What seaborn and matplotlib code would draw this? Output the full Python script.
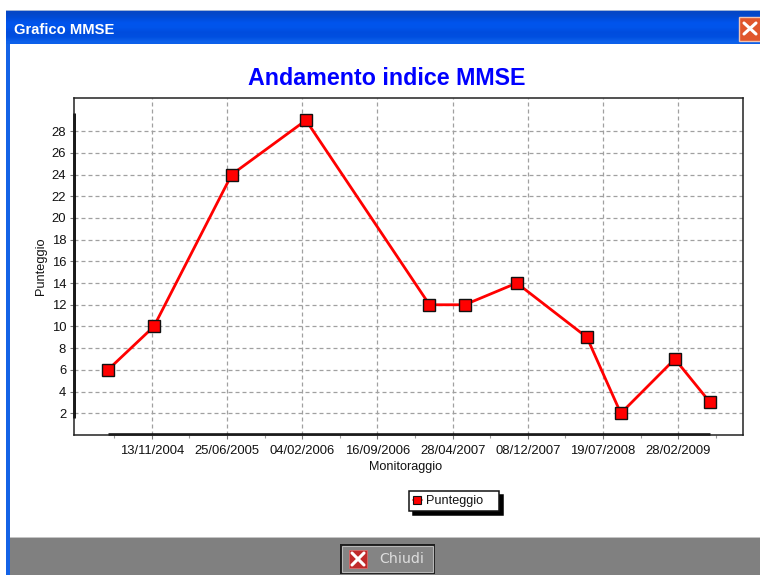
import matplotlib
matplotlib.use("Agg")
import matplotlib.pyplot as plt
from matplotlib.lines import Line2D
from matplotlib.patches import Rectangle
import numpy as np
import pandas as pd
import seaborn as sns

# ---- data ----
visit_dates = ["2004-07-05", "2004-11-19", "2005-07-09", "2006-02-15", "2007-02-18", "2007-06-03",
               "2007-11-05", "2008-06-01", "2008-09-10", "2009-02-18", "2009-06-03"]
scores = [6, 10, 24, 29, 12, 12, 14, 9, 2, 7, 3]
x_tick_dates = ["2004-11-13", "2005-06-25", "2006-02-04", "2006-09-16",
                "2007-04-28", "2007-12-08", "2008-07-19", "2009-02-28"]
x_tick_labels = ["13/11/2004", "25/06/2005", "04/02/2006", "16/09/2006",
                 "28/04/2007", "08/12/2007", "19/07/2008", "28/02/2009"]
y_ticks = [2, 4, 6, 8, 10, 12, 14, 16, 18, 20, 22, 24, 26, 28]
series_name = "Punteggio"
chart_title = "Andamento indice MMSE"
window_title = "Grafico MMSE"
x_label = "Monitoraggio"
y_label = "Punteggio"
button_label = "Chiudi"

sns.set_theme(style="white")
plt.rcParams["font.family"] = ["Liberation Sans", "DejaVu Sans"]

W, H = 760, 575
fig = plt.figure(figsize=(W / 100, H / 100), dpi=100, facecolor="white")

# ---- window chrome, in pixel coordinates ----
bg = fig.add_axes([0, 0, 1, 1], zorder=0)
bg.set_xlim(0, W)
bg.set_ylim(H, 0)
bg.axis("off")
bg.add_patch(Rectangle((6, 10), 4, H - 10, color="#1463E6", lw=0))
grad = np.array([[0.02, 0.28, 0.78], [0.0, 0.30, 0.85], [0.0, 0.33, 0.93], [0.0, 0.33, 0.92],
                 [0.0, 0.30, 0.87], [0.0, 0.31, 0.88], [0.05, 0.38, 0.92]])[:, None, :]
bg.imshow(grad, extent=(6, W, 44, 11), aspect="auto", interpolation="bilinear", zorder=1)
bg.set_xlim(0, W)
bg.set_ylim(H, 0)
bg.add_patch(Rectangle((6, 9.5), W, 1.5, color="#9FB4D6", lw=0, zorder=2))
bg.text(14, 30, window_title, color="white", fontsize=10.6, fontweight="bold", va="center",
        family=["Liberation Sans", "DejaVu Sans"], zorder=3)
# close button
bg.add_patch(Rectangle((738.5, 16.5), 24, 24, facecolor="#E0562C", edgecolor="#F3C4B0", lw=1, zorder=3))
bg.plot([744, 756], [23, 34], color="white", lw=2.2, zorder=4, solid_capstyle="round")
bg.plot([756, 744], [23, 34], color="white", lw=2.2, zorder=4, solid_capstyle="round")
# bottom bar
bg.add_patch(Rectangle((10, 538), W, H - 538, color="#808080", lw=0, zorder=1))
bg.add_patch(Rectangle((10, 537), W, 1.2, color="#C4C4C4", lw=0, zorder=1))
bg.add_patch(Rectangle((340, 544), 95, 30, facecolor="#1E1E1E", lw=0, zorder=2))
bg.add_patch(Rectangle((342, 546), 91, 26, facecolor="#848484", edgecolor="#B8B8B8", lw=0.8, zorder=3))
bg.add_patch(Rectangle((349, 550), 18, 18, facecolor="#C02A2A", edgecolor="#D86A6A", lw=0.6, zorder=4))
bg.plot([352, 364], [553, 565], color="white", lw=2.2, zorder=5)
bg.plot([364, 352], [553, 565], color="white", lw=2.2, zorder=5)
bg.text(379, 559, button_label, color="#DDDDDD", fontsize=10.2, va="center",
        family=["DejaVu Sans"], zorder=5)

# ---- chart ----
L, R, T, B = 74, 743, 98, 435
ax = fig.add_axes([L / W, 1 - B / H, (R - L) / W, (B - T) / H], zorder=2)
ax.patch.set_alpha(0)

df = pd.DataFrame({"date": pd.to_datetime(visit_dates), "score": scores})
ticks = pd.to_datetime(x_tick_dates)
step = ticks[1] - ticks[0]
ax.set_xlim(ticks[0] - pd.Timedelta(days=232), ticks[0] + pd.Timedelta(days=1761))
ax.set_ylim(0, 31.05)

ax.set_xticks(ticks)
ax.set_xticklabels(x_tick_labels)
ax.set_yticks(y_ticks)
minor = [ticks[0] - step / 2] + [t + step / 2 for t in ticks]
ax.set_xticks(minor, minor=True)

ax.grid(True, which="major", color="#A0A0A0", linestyle=(0, (3.2, 2.4)), linewidth=0.9)
ax.set_axisbelow(True)
ax.tick_params(axis="both", which="major", labelsize=9.4, colors="#111111", length=3, width=0.8,
               color="#777777", left=True, bottom=True)
ax.tick_params(axis="x", which="major", pad=4.2)
ax.tick_params(axis="y", which="major", pad=2.6)
ax.tick_params(axis="x", which="minor", length=2, width=0.8, color="#999999", bottom=True)
for s in ax.spines.values():
    s.set_color("#222222")
    s.set_linewidth(1.1)

# thick axis range lines
ax.plot([df["date"].min(), df["date"].max()], [0.08, 0.08], color="black", lw=1.8,
        clip_on=False, zorder=2, solid_capstyle="butt")
ax.plot([ax.get_xlim()[0]] * 2, [min(scores) - 0.4, max(scores) + 0.7], color="black", lw=2.0,
        clip_on=False, zorder=2, solid_capstyle="butt")

sns.lineplot(data=df, x="date", y="score", ax=ax, color="#FF0000", linewidth=2.0, marker="s",
             markersize=8.3, markerfacecolor="#FF0000", markeredgecolor="#111111",
             markeredgewidth=1.0, zorder=4, legend=False)

ax.set_xlabel("")
ax.set_ylabel("")
fig.text(406 / W, 1 - 467 / H, x_label, ha="center", va="center", fontsize=9.1, color="#111111")
fig.text(41 / W, 1 - 266 / H, y_label, ha="center", va="center", rotation=90, fontsize=9.2, color="#111111")
fig.text(387 / W, 1 - 78.5 / H, chart_title, ha="center", va="center", fontsize=16.75,
         fontweight="bold", color="#0000FF")

handle = Line2D([], [], color="#FF0000", lw=1.2, marker="s", markersize=5.2,
                markerfacecolor="#FF0000", markeredgecolor="#111111", markeredgewidth=0.8)
leg = fig.legend([handle], [series_name], loc="upper left",
                 bbox_to_anchor=(409 / W, 1 - 512 / H, 90 / W, 21 / H), mode="expand",
                 bbox_transform=fig.transFigure, fontsize=9.1, frameon=True, fancybox=False,
                 edgecolor="#111111", facecolor="white", framealpha=1, borderaxespad=0,
                 shadow={"color": "black", "alpha": 1, "ox": 3, "oy": -3},
                 handlelength=0.7, handletextpad=0.3, borderpad=0.32)
leg.get_frame().set_linewidth(1.1)
for t in leg.get_texts():
    t.set_color("#111111")

fig.savefig("out.png", dpi=100)
